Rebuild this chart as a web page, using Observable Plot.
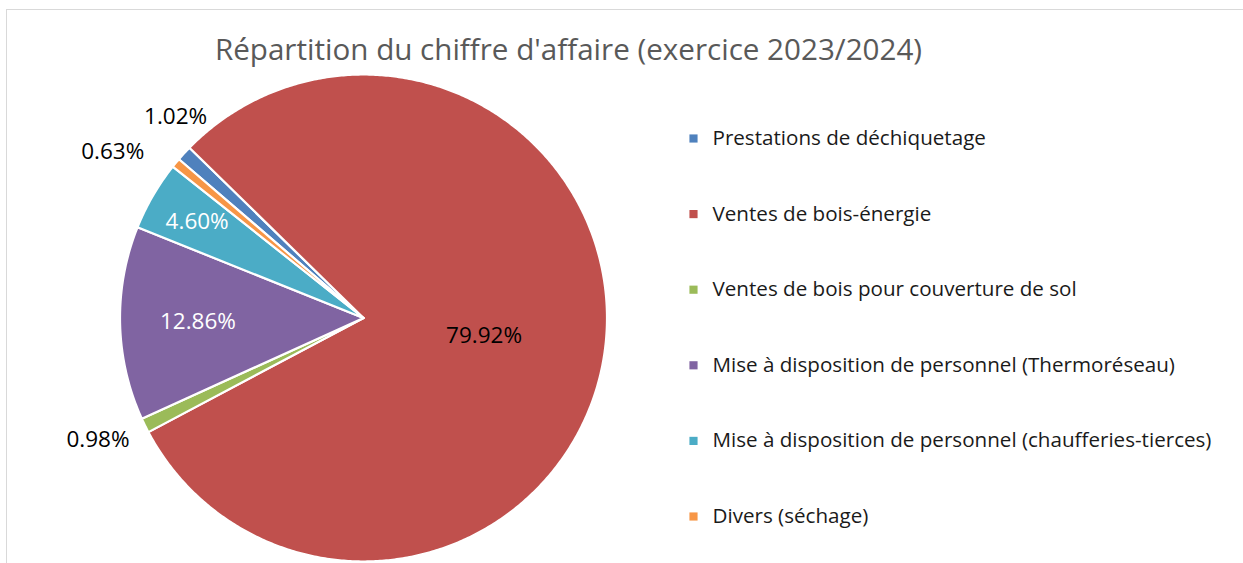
<!DOCTYPE html>
<html>
<head>
<meta charset="utf-8">
<script src="https://cdn.jsdelivr.net/npm/d3@7"></script>
<script src="https://cdn.jsdelivr.net/npm/@observablehq/plot@0.6"></script>
<style>
  html, body { margin: 0; padding: 0; background: #fff; overflow: hidden; }
  #wrap { position: relative; width: 1243px; height: 563px; }
  #border { position: absolute; left: 6px; top: 9px; width: 1300px; height: 700px;
            border: 1.5px solid #d9d9d9; pointer-events: none; box-sizing: border-box; }
  svg { display: block; }
</style>
</head>
<body>
<div id="wrap"><div id="chart"></div><div id="border"></div></div>
<script>
const title = "Répartition du chiffre d'affaire (exercice 2023/2024)";
const categories = [
  "Prestations de déchiquetage",
  "Ventes de bois-énergie",
  "Ventes de bois pour couverture de sol",
  "Mise à disposition de personnel (Thermoréseau)",
  "Mise à disposition de personnel (chaufferies-tierces)",
  "Divers (séchage)"
];
const values = [1.02, 79.92, 0.98, 12.86, 4.60, 0.63];
const valueLabels = ["1.02%", "79.92%", "0.98%", "12.86%", "4.60%", "0.63%"];
const colors = ["#4F81BD", "#C0504D", "#9BBB59", "#8064A2", "#4BACC6", "#F79646"];

// layout
const W = 1243, H = 563;
const cx = 363, cy = 317.5, R = 243.5;
const startDeg = 310.7;
const labelRadius = [1.13, 0.5, 1.2, 0.68, 0.79, 1.236];
const labelAngleNudge = [4.4, 0, 1.5, 0, 0, -6];
const labelColor = ["#000", "#000", "#000", "#fff", "#fff", "#000"];
const font = "'Open Sans', sans-serif";

const rad = d => d * Math.PI / 180;
const arcs = d3.pie().sort(null).value(d => d.value)
  .startAngle(rad(startDeg)).endAngle(rad(startDeg + 360))(
    categories.map((c, i) => ({category: c, value: values[i], i}))
  );

const slicePts = [];
for (const a of arcs) {
  slicePts.push({category: a.data.category, x: cx, y: cy});
  const n = Math.max(2, Math.ceil((a.endAngle - a.startAngle) / rad(0.5)));
  for (let k = 0; k <= n; k++) {
    const t = a.startAngle + (a.endAngle - a.startAngle) * k / n;
    slicePts.push({category: a.data.category, x: cx + R * Math.sin(t), y: cy - R * Math.cos(t)});
  }
}

const labelData = arcs.map(a => {
  const i = a.data.i;
  const m = (a.startAngle + a.endAngle) / 2 + rad(labelAngleNudge[i]);
  return {label: valueLabels[i], x: cx + R * labelRadius[i] * Math.sin(m),
          y: cy - R * labelRadius[i] * Math.cos(m), color: labelColor[i]};
});

const legendData = categories.map((c, i) => ({category: c, x: 693, y: 138 + i * 75.6}));

const plot = Plot.plot({
  width: W, height: H, margin: 0,
  x: {domain: [0, W], range: [0, W], axis: null},
  y: {domain: [0, H], range: [0, H], axis: null},
  color: {domain: categories, range: colors},
  style: {fontFamily: font, background: "transparent"},
  marks: [
    Plot.line(slicePts, {x: "x", y: "y", z: "category", fill: "category", stroke: "white",
      strokeWidth: 2.2, strokeLinejoin: "round", curve: "linear-closed"}),
    Plot.text(labelData, {x: "x", y: "y", text: "label", fill: d => d.color, fontSize: 22.5, textAnchor: "middle"}),
    Plot.dot(legendData, {x: "x", y: "y", symbol: "square", r: 4.6, fill: "category", stroke: null}),
    Plot.text(legendData, {x: d => d.x + 19, y: "y", text: "category", textAnchor: "start", fontSize: 20.6, fill: "#1a1a1a"}),
    Plot.text([title], {x: 568, y: 50, text: d => d, fontSize: 29.6, fill: "#595959", textAnchor: "middle"})
  ]
});
document.getElementById("chart").appendChild(plot);
</script>
</body>
</html>
